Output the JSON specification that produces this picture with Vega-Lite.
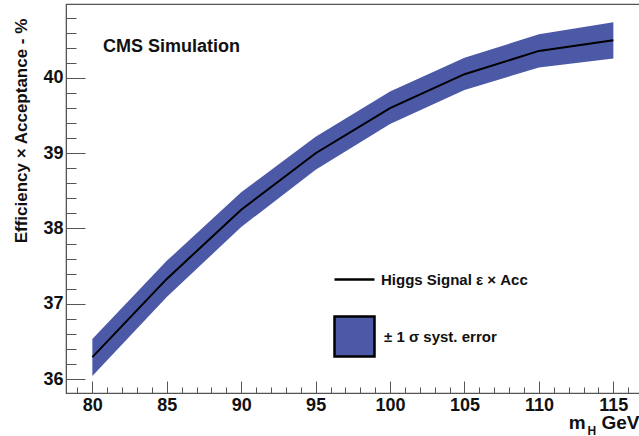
{
  "$schema": "https://vega.github.io/schema/vega-lite/v6.json",
  "width": 574,
  "height": 389,
  "autosize": {"type": "none"},
  "padding": {"left": 66, "top": 4, "right": 0, "bottom": 43},
  "background": "white",
  "config": {
    "view": {"stroke": "#555", "strokeWidth": 1.2},
    "font": "Liberation Sans",
    "axis": {"grid": false, "domainColor": "#555", "tickColor": "#555", "labelFont": "Liberation Sans", "labelFontWeight": "bold", "labelFontSize": 18, "labelColor": "#111", "titleFont": "Liberation Sans", "titleFontWeight": "bold", "titleColor": "#111"},
    "legend": {"labelFont": "Liberation Sans", "labelFontWeight": "bold", "labelFontSize": 15, "labelColor": "#111", "padding": 0}
  },
  "title": {"text": "CMS Simulation", "anchor": "start", "frame": "group", "font": "Liberation Sans", "fontWeight": "bold", "fontSize": 18, "color": "#111", "dx": 37, "dy": 52, "offset": 0},
  "data": {"values": [
    {"m": 80, "eff": 36.29, "lo": 36.04, "hi": 36.53},
    {"m": 85, "eff": 37.33, "lo": 37.09, "hi": 37.57},
    {"m": 90, "eff": 38.25, "lo": 38.02, "hi": 38.48},
    {"m": 95, "eff": 39.0, "lo": 38.78, "hi": 39.22},
    {"m": 100, "eff": 39.6, "lo": 39.39, "hi": 39.82},
    {"m": 105, "eff": 40.05, "lo": 39.84, "hi": 40.27},
    {"m": 110, "eff": 40.36, "lo": 40.14, "hi": 40.58},
    {"m": 115, "eff": 40.5, "lo": 40.26, "hi": 40.74}
  ]},
  "resolve": {"axis": {"x": "independent", "y": "independent"}},
  "layer": [
    {
      "mark": {"type": "area", "opacity": 1},
      "encoding": {
        "x": {"field": "m", "type": "quantitative", "scale": {"domain": [78.23, 116.79], "nice": false, "zero": false},
          "axis": {"orient": "bottom", "values": [80, 85, 90, 95, 100, 105, 110, 115], "tickSize": -12, "labelPadding": 15, "labelBaseline": "top", "title": "m\u00a0\u00a0\u00a0GeV", "titleFontSize": 19, "titleAnchor": "end", "titleAlign": "right", "titleBaseline": "alphabetic", "titleX": 573, "titleY": 35}},
        "y": {"field": "lo", "type": "quantitative", "scale": {"domain": [35.814, 40.983], "nice": false, "zero": false},
          "axis": {"orient": "left", "values": [36, 37, 38, 39, 40], "tickSize": -19, "labelPadding": 22, "title": "Efficiency × Acceptance - %", "titleFontSize": 17, "titleAngle": -90, "titleAlign": "center", "titleBaseline": "middle", "titleX": -45, "titleY": 126.5}},
        "y2": {"field": "hi"},
        "fill": {"datum": "± 1 σ syst. error", "type": "nominal", "scale": {"range": ["#4b59a7"]},
          "legend": {"title": null, "orient": "none", "legendX": 267, "legendY": 311, "symbolType": "square", "symbolSize": 1600, "symbolStrokeColor": "#000", "symbolStrokeWidth": 2.5, "symbolOpacity": 1, "labelOffset": 8}}
      }
    },
    {
      "mark": {"type": "line", "color": "#000", "strokeWidth": 2},
      "encoding": {
        "x": {"field": "m", "type": "quantitative",
          "axis": {"orient": "bottom", "values": [79, 81, 82, 83, 84, 86, 87, 88, 89, 91, 92, 93, 94, 96, 97, 98, 99, 101, 102, 103, 104, 106, 107, 108, 109, 111, 112, 113, 114, 116], "tickSize": -6, "labels": false, "domain": false, "title": "H", "titleFontSize": 12, "titleAlign": "left", "titleBaseline": "alphabetic", "titleX": 521, "titleY": 41}},
        "y": {"field": "eff", "type": "quantitative",
          "axis": {"orient": "left", "values": [35.8, 36.2, 36.4, 36.6, 36.8, 37.2, 37.4, 37.6, 37.8, 38.2, 38.4, 38.6, 38.8, 39.2, 39.4, 39.6, 39.8, 40.2, 40.4, 40.6, 40.8], "tickSize": -10, "labels": false, "domain": false, "title": null}},
        "stroke": {"datum": "Higgs Signal ε × Acc", "type": "nominal", "scale": {"range": ["#000"]},
          "legend": {"title": null, "orient": "none", "legendX": 267, "legendY": 254, "symbolType": "stroke", "symbolSize": 1600, "symbolStrokeWidth": 2.5, "labelOffset": 5}}
      }
    }
  ]
}
